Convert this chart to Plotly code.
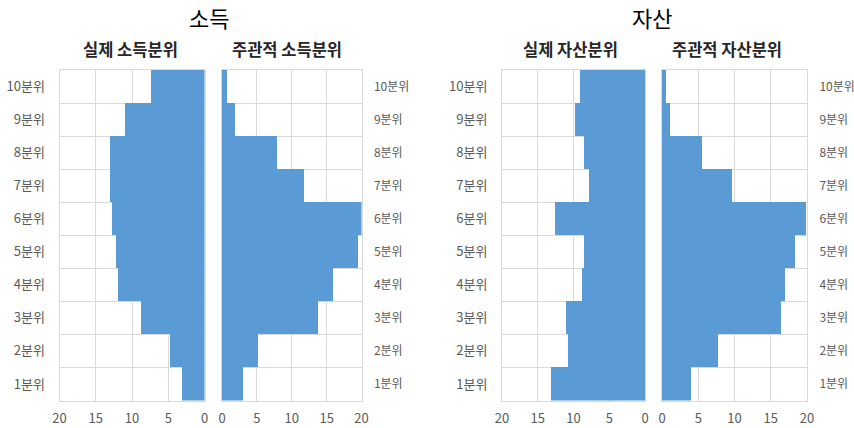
import plotly.graph_objects as go

# 분위 labels (bottom to top)
deciles = ["1분위", "2분위", "3분위", "4분위", "5분위", "6분위", "7분위", "8분위", "9분위", "10분위"]

# shares (%) by decile, 1분위 -> 10분위
income_actual = [3.2, 4.8, 8.8, 11.95, 12.3, 12.8, 13.05, 13.15, 11.1, 7.45]
income_subjective = [3.05, 5.15, 13.8, 15.9, 19.5, 20.0, 11.8, 7.9, 1.8, 0.7]
asset_actual = [13.1, 10.8, 11.0, 8.8, 8.6, 12.55, 7.9, 8.55, 9.8, 9.1]
asset_subjective = [4.0, 7.75, 16.4, 17.0, 18.4, 19.8, 9.65, 5.55, 1.1, 0.55]

x_ticks = [0, 5, 10, 15, 20]

FONT = "Noto Sans CJK KR"
BAR = "#5b9bd5"
GRID = "#d9d9d9"
TICK = "#595959"
W, H = 854, 428

panels = [
    ("x", "y", income_actual, [59.5, 204.5], True, "left"),
    ("x2", "y2", income_subjective, [222, 361.5], False, "right"),
    ("x3", "y3", asset_actual, [502, 645], True, "left"),
    ("x4", "y4", asset_subjective, [662, 807], False, "right"),
]

fig = go.Figure()
y_dom = [1 - 400.5 / H, 1 - 70 / H]

for i, (xa, ya, vals, px, rev, side) in enumerate(panels):
    fig.add_trace(go.Bar(
        x=vals, y=deciles, orientation="h", xaxis=xa, yaxis=ya,
        marker=dict(color=BAR, line=dict(width=0)), width=1.0,
        showlegend=False,
    ))
    xname = "xaxis" if i == 0 else f"xaxis{i + 1}"
    yname = "yaxis" if i == 0 else f"yaxis{i + 1}"
    fig.layout[xname] = dict(
        domain=[px[0] / W, px[1] / W], anchor=ya,
        range=[20, 0] if rev else [0, 20],
        tickvals=x_ticks, ticktext=[str(v) for v in x_ticks],
        showgrid=True, gridcolor=GRID, gridwidth=1,
        showline=True, linecolor=GRID, linewidth=1, mirror=True,
        zeroline=False, ticks="", ticklabelstandoff=6, automargin=False,
        tickfont=dict(family=FONT, size=13, color=TICK),
        fixedrange=True,
    )
    right = side == "right"
    fig.layout[yname] = dict(
        domain=y_dom, anchor=xa, side=side,
        type="category", categoryorder="array", categoryarray=deciles,
        tickson="boundaries", showgrid=True, gridcolor=GRID, gridwidth=1,
        showline=True, linecolor=GRID, linewidth=1, mirror=True,
        ticks="", ticklabelstandoff=9 if right else 11, automargin=False,
        tickfont=dict(family=FONT, size=12 if right else 13, color=TICK),
        fixedrange=True,
    )

annotations = [
    dict(text="소득", x=209 / W, y=1 - 17 / H, size=22, bold=False),
    dict(text="자산", x=652 / W, y=1 - 17 / H, size=22, bold=False),
    dict(text="실제 소득분위", x=130 / W, y=1 - 49 / H, size=16.5, bold=True),
    dict(text="주관적 소득분위", x=287 / W, y=1 - 49 / H, size=16.5, bold=True),
    dict(text="실제 자산분위", x=570 / W, y=1 - 49 / H, size=16.5, bold=True),
    dict(text="주관적 자산분위", x=727 / W, y=1 - 49 / H, size=16.5, bold=True),
]
for a in annotations:
    fig.add_annotation(
        text=f"<b>{a['text']}</b>" if a["bold"] else a["text"],
        x=a["x"], y=a["y"], xref="paper", yref="paper",
        xanchor="center", yanchor="middle", showarrow=False,
        font=dict(family=FONT, size=a["size"], color="#262626" if a["bold"] else "#000000"),
    )

fig.update_layout(
    width=W, height=H, margin=dict(l=0, r=0, t=0, b=0, autoexpand=False),
    paper_bgcolor="white", plot_bgcolor="white",
    bargap=0, barmode="overlay",
    font=dict(family=FONT),
)

fig.write_html("out.html")
